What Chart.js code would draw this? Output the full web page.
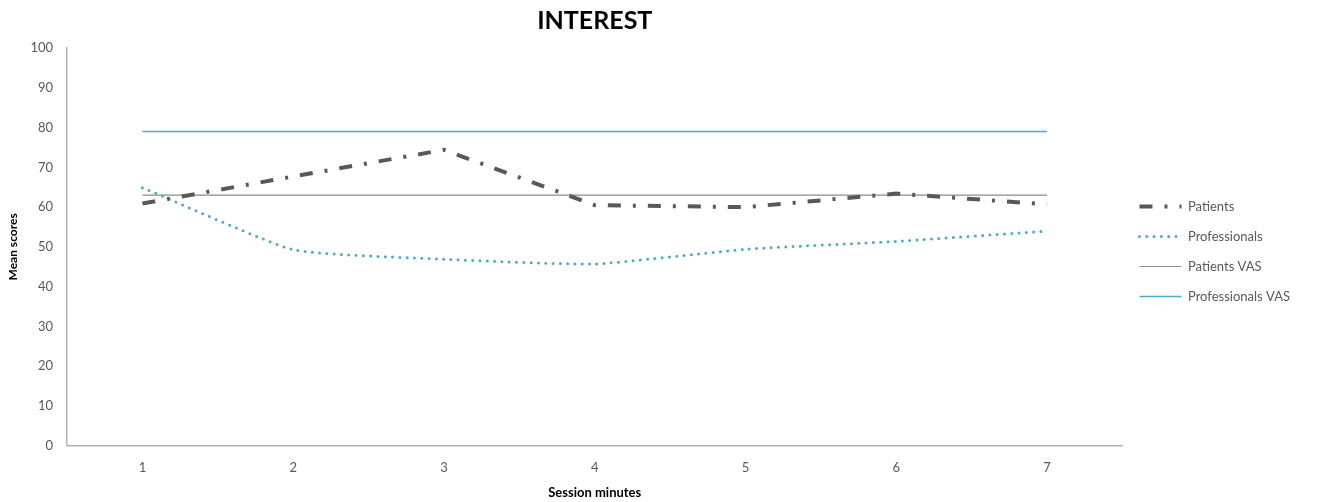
<!DOCTYPE html>
<html>
<head>
<meta charset="utf-8">
<title>INTEREST</title>
<script src="https://cdn.jsdelivr.net/npm/chart.js@4/dist/chart.umd.min.js"></script>
<style>
  html, body { margin: 0; padding: 0; background: #ffffff; }
  #wrap { width: 1324px; height: 502px; position: relative; }
</style>
</head>
<body>
<div id="wrap"><canvas id="chart"></canvas></div>
<script>
// Session minutes on the x axis
const sessionMinutes = ['1', '2', '3', '4', '5', '6', '7'];

// Mean scores per minute
const patients      = [60.9, 67.7, 74.4, 60.5, 60.0, 63.4, 60.7];
const professionals = [64.9, 49.3, 46.9, 45.7, 49.4, 51.4, 54.0];

// Reference VAS levels, constant across the session
const patientsVAS      = 63.0;
const professionalsVAS = 79.0;

// Y axis scale
const yMin = 0, yMax = 100, yStep = 10;

const grey = '#595959';
const aqua = '#4bacc6';
const fontFamily = 'Lato, "Open Sans", "DejaVu Sans", sans-serif';

const flat = (v) => sessionMinutes.map(() => v);

// Legend entries drawn as short samples of each series' own line style
function lineLegendLabels(chart) {
  return chart.data.datasets.map((ds, i) => ({
    text: ds.label,
    datasetIndex: i,
    hidden: false,
    fontColor: grey,
    fillStyle: ds.borderColor,
    strokeStyle: ds.borderColor,
    lineWidth: ds.borderWidth,
    lineDash: ds.borderDash || [],
    lineCap: ds.borderCapStyle || 'butt',
    pointStyle: 'line'
  }));
}

new Chart(document.getElementById('chart'), {
  type: 'line',
  data: {
    labels: sessionMinutes,
    datasets: [
      {
        label: 'Patients',
        data: patients,
        borderColor: grey,
        backgroundColor: grey,
        borderWidth: 4,
        borderDash: [13, 12, 3, 12],
        borderCapStyle: 'butt',
        pointRadius: 0,
        tension: 0
      },
      {
        label: 'Professionals',
        data: professionals,
        borderColor: aqua,
        backgroundColor: aqua,
        borderWidth: 3,
        borderDash: [0, 7.3],
        borderCapStyle: 'round',
        pointRadius: 0,
        tension: 0.15
      },
      {
        label: 'Patients VAS',
        data: flat(patientsVAS),
        borderColor: '#8c8c8c',
        backgroundColor: '#8c8c8c',
        borderWidth: 1.2,
        pointRadius: 0,
        tension: 0
      },
      {
        label: 'Professionals VAS',
        data: flat(professionalsVAS),
        borderColor: aqua,
        backgroundColor: aqua,
        borderWidth: 1.5,
        pointRadius: 0,
        tension: 0
      }
    ]
  },
  options: {
    responsive: true,
    maintainAspectRatio: false,
    animation: false,
    layout: { padding: { left: 6, right: 24, top: 2, bottom: 1 } },
    plugins: {
      title: {
        display: true,
        text: 'INTEREST',
        fullSize: false,
        color: '#000000',
        font: { family: fontFamily, size: 25, weight: 'bold' },
        padding: { top: 4, bottom: 12 }
      },
      legend: {
        position: 'right',
        align: 'center',
        labels: {
          usePointStyle: true,
          pointStyle: 'line',
          pointStyleWidth: 42,
          boxHeight: 13,
          color: grey,
          padding: 17,
          font: { family: fontFamily, size: 13 },
          generateLabels: lineLegendLabels
        }
      },
      tooltip: { enabled: false }
    },
    scales: {
      x: {
        offset: true,
        grid: { display: false, drawTicks: false },
        border: { display: true, color: '#b3b3b3', width: 1.5 },
        ticks: { color: grey, padding: 14, font: { family: fontFamily, size: 13 } },
        title: {
          display: true,
          text: 'Session minutes',
          color: '#000000',
          padding: { top: -4, bottom: 0 },
          font: { family: fontFamily, size: 13, weight: 'bold' }
        }
      },
      y: {
        min: yMin,
        max: yMax,
        grid: { display: false, drawTicks: false },
        border: { display: true, color: '#b3b3b3', width: 1.5 },
        ticks: { stepSize: yStep, color: grey, padding: 14, font: { family: fontFamily, size: 13 } },
        title: {
          display: true,
          text: 'Mean scores',
          color: '#000000',
          padding: { top: 0, bottom: -4 },
          font: { family: fontFamily, size: 12, weight: 'bold' }
        }
      }
    }
  }
});
</script>
</body>
</html>
